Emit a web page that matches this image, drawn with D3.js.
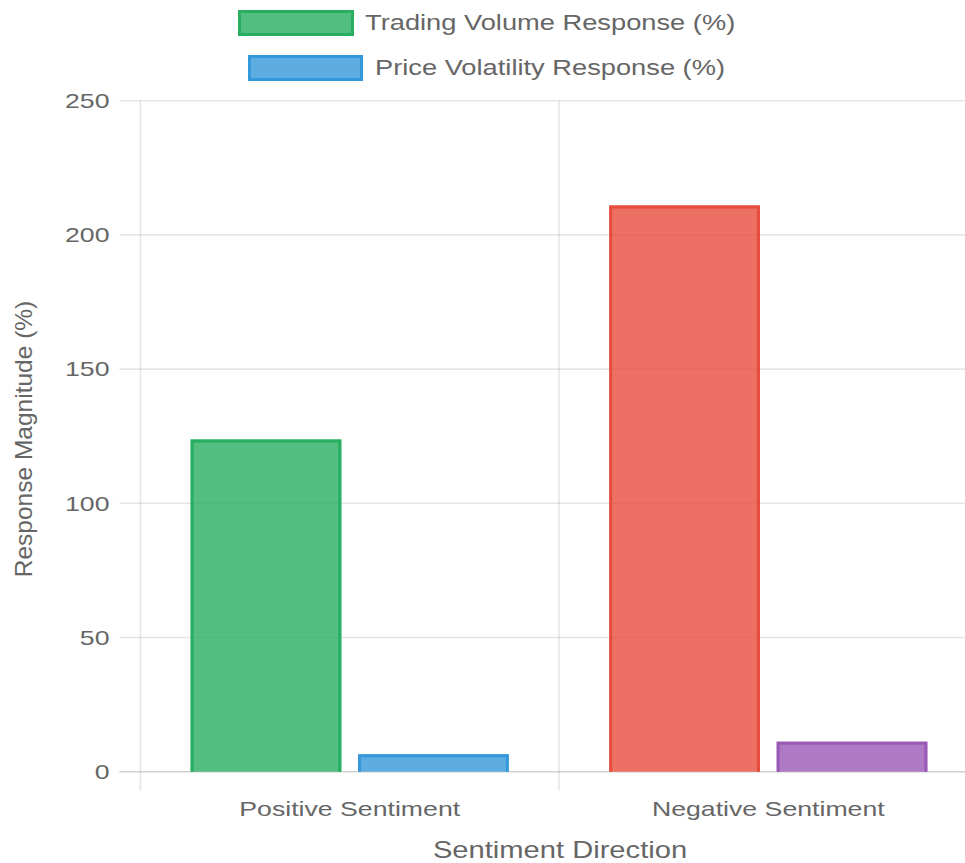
<!DOCTYPE html>
<html>
<head>
<meta charset="utf-8">
<script src="https://cdn.jsdelivr.net/npm/d3@7"></script>
<style>
  html, body { margin: 0; padding: 0; background: #fff; }
  svg { display: block; font-family: "Liberation Sans", Arial, Helvetica, sans-serif; }
</style>
</head>
<body>
<svg id="chart" width="965" height="863"></svg>
<script>
// Sentiment direction vs. market response
const categories = ["Positive Sentiment", "Negative Sentiment"];
const seriesNames = ["Trading Volume Response (%)", "Price Volatility Response (%)"];
const tradingVolume = [123.8, 211];
const priceVolatility = [6.5, 11.2];
const yTicks = [0, 50, 100, 150, 200, 250];

// per-bar fill / border colours for each series
const volumeFill = ["rgba(39,174,96,0.8)", "rgba(231,76,60,0.8)"];
const volumeBorder = ["#27ae60", "#e74c3c"];
const volFill = ["rgba(52,152,219,0.8)", "rgba(155,89,182,0.8)"];
const volBorder = ["#3498db", "#9b59b6"];

const series = [
  { name: seriesNames[0], values: tradingVolume, fill: volumeFill, border: volumeBorder },
  { name: seriesNames[1], values: priceVolatility, fill: volFill, border: volBorder }
];

const svg = d3.select("#chart");
const textColor = "#666";
const gridColor = "rgba(0,0,0,0.1)";
const sx = 1.27; // horizontal text stretch

const plot = { left: 140.4, right: 977.6, top: 100.7, bottom: 771.7 };

const x = d3.scaleBand().domain(categories).range([plot.left, plot.right]).padding(0);
const bw = x.bandwidth();
const xInner = d3.scaleBand().domain(d3.range(series.length))
  .range([bw * 0.1, bw * 0.9]).paddingInner(0.1).paddingOuter(0.05);
const y = d3.scaleLinear().domain([0, 250]).range([plot.bottom, plot.top]);

// horizontal grid lines + tick marks
const gGrid = svg.append("g");
gGrid.selectAll("line.h").data(yTicks).join("line")
  .attr("x1", plot.left - 21).attr("x2", plot.right)
  .attr("y1", d => y(d)).attr("y2", d => y(d))
  .attr("stroke", d => d === 0 ? "rgba(0,0,0,0.18)" : gridColor)
  .attr("stroke-width", 1.6);

// vertical grid lines at category boundaries
const xBounds = categories.map(c => x(c)).concat([plot.right]);
gGrid.selectAll("line.v").data(xBounds).join("line")
  .attr("x1", d => d).attr("x2", d => d)
  .attr("y1", plot.top).attr("y2", plot.bottom + 19)
  .attr("stroke", gridColor).attr("stroke-width", 1.6);

// y tick labels
svg.append("g").selectAll("text").data(yTicks).join("text")
  .attr("transform", d => `translate(109.5,${y(d)}) scale(${sx},1)`)
  .attr("dy", "0.35em")
  .attr("text-anchor", "end")
  .attr("font-size", 21)
  .attr("fill", textColor)
  .text(d => d);

// x tick labels
svg.append("g").selectAll("text").data(categories).join("text")
  .attr("transform", d => `translate(${x(d) + bw / 2},816) scale(${sx},1)`)
  .attr("text-anchor", "middle")
  .attr("font-size", 21)
  .attr("fill", textColor)
  .text(d => d);

// axis titles
svg.append("text")
  .attr("transform", `translate(560,858) scale(1.19,1)`)
  .attr("text-anchor", "middle")
  .attr("font-size", 24.5)
  .attr("fill", textColor)
  .text("Sentiment Direction");

svg.append("text")
  .attr("transform", `translate(32,439) rotate(-90)`)
  .attr("text-anchor", "middle")
  .attr("font-size", 24.5)
  .attr("fill", textColor)
  .text("Response Magnitude (%)");

// bars: fill plus border on left, top and right (no border at the base)
const bwBorder = 3;
const gBars = svg.append("g");
series.forEach((s, si) => {
  const bars = s.values.map((v, ci) => ({ v, ci, cat: categories[ci] }));
  const g = gBars.append("g");
  g.selectAll("rect").data(bars).join("rect")
    .attr("x", d => x(d.cat) + xInner(si))
    .attr("y", d => y(d.v))
    .attr("width", xInner.bandwidth())
    .attr("height", d => y(0) - y(d.v))
    .attr("fill", d => s.fill[d.ci]);
  g.selectAll("path").data(bars).join("path")
    .attr("d", d => {
      const x0 = x(d.cat) + xInner(si) + bwBorder / 2;
      const x1 = x(d.cat) + xInner(si) + xInner.bandwidth() - bwBorder / 2;
      const yt = y(d.v) + bwBorder / 2;
      const yb = y(0);
      return `M${x0},${yb}L${x0},${yt}L${x1},${yt}L${x1},${yb}`;
    })
    .attr("fill", "none")
    .attr("stroke", d => s.border[d.ci])
    .attr("stroke-width", bwBorder);
});

// legend: one centred row per series
const legendRows = [
  { box: [238, 10, 116, 26], textX: 365, baseline: 30 },
  { box: [248, 55, 115, 26], textX: 375, baseline: 75 }
];
const gLeg = svg.append("g");
series.forEach((s, i) => {
  const r = legendRows[i];
  gLeg.append("rect")
    .attr("x", r.box[0] + 1.5).attr("y", r.box[1] + 1.5)
    .attr("width", r.box[2] - 3).attr("height", r.box[3] - 3)
    .attr("fill", s.fill[0]).attr("stroke", s.border[0]).attr("stroke-width", 3);
  gLeg.append("text")
    .attr("transform", `translate(${r.textX},${r.baseline}) scale(1.24,1)`)
    .attr("font-size", 22)
    .attr("fill", textColor)
    .text(s.name);
});
</script>
</body>
</html>
